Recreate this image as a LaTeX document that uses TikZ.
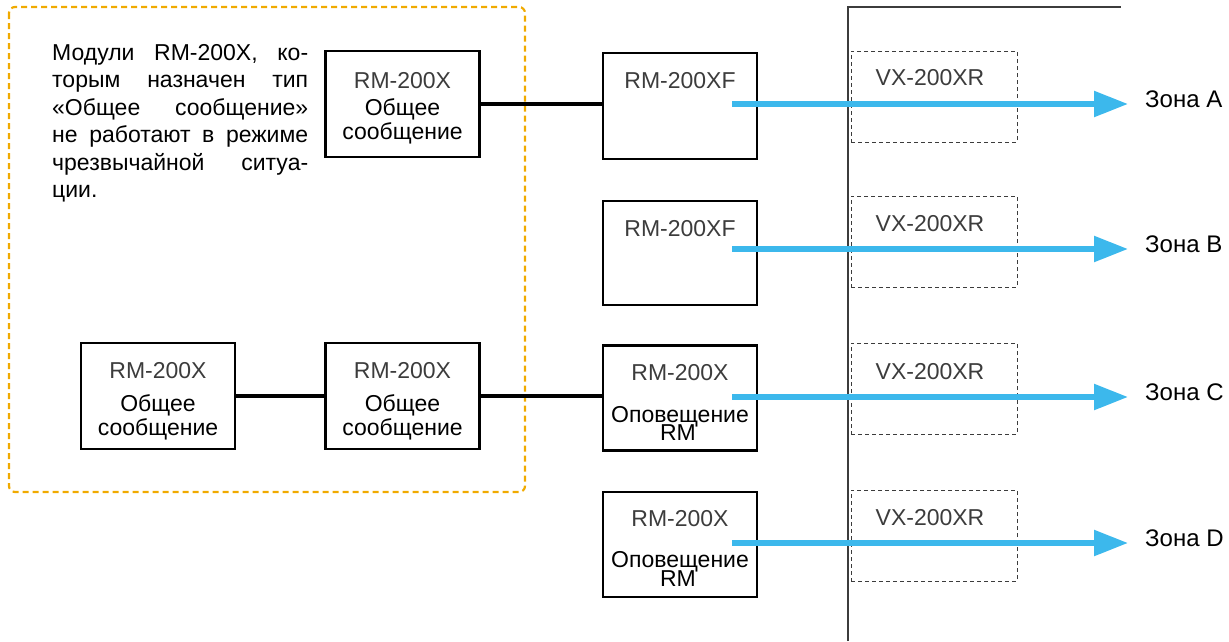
\documentclass[tikz,border=0pt]{standalone}
\usepackage{fontspec}
\setmainfont{Liberation Sans}
\usetikzlibrary{arrows.meta}
\definecolor{grporange}{RGB}{240,170,0}
\definecolor{zoneblue}{RGB}{60,184,236}
\definecolor{devgray}{RGB}{60,60,60}
\begin{document}
\begin{tikzpicture}[x=1pt,y=-1pt,
  box/.style={draw=black, line width=2.5pt, minimum width=154pt, minimum height=106pt, inner sep=0pt},
  vxbox/.style={draw=devgray, line width=1pt, dash pattern=on 4pt off 3pt, minimum width=166pt, minimum height=91pt, inner sep=0pt},
  model/.style={font=\fontsize{23}{23}\selectfont, text=devgray, inner sep=0pt, anchor=base},
  lbl/.style={font=\fontsize{23}{23}\selectfont, inner sep=0pt, anchor=base},
  zone/.style={font=\fontsize{24}{24}\selectfont, inner sep=0pt, anchor=base west},
  link/.style={line width=3.6pt},
  zarrow/.style={draw=zoneblue, line width=5.5pt, -{Triangle[length=34pt,width=25pt]}, shorten >=17pt},
  grpbox/.style={draw=grporange, line width=2.2pt, dash pattern=on 6pt off 4pt, rounded corners=6pt}
]
\useasboundingbox (0,0) rectangle (1229,641);

% group frame
\draw[grpbox] (9,7) rectangle (525,492);

% note text
\node[anchor=north west, text width=256pt, align=justify, inner sep=0pt,
      font=\fontsize{23}{27.5}\selectfont] (note) at (52,44)
  {\hyphenpenalty=10000 Модули RM-200X, ко-\linebreak торым назначен тип\linebreak «Общее сообщение»\linebreak не работают в режиме\linebreak чрезвычайной ситуа-\linebreak ции.};

% boxes
\node[box] (m1) at (402.5,104) {};
\node[model] (m1a) at (402.5,88) {RM-200X};
\node[lbl] (m1b) at (402.5,115) {Общее};
\node[lbl] (m1c) at (402.5,139) {сообщение};

\node[box] (b1) at (158,396) {};
\node[model] (b1a) at (158,378) {RM-200X};
\node[lbl] (b1b) at (158,411) {Общее};
\node[lbl] (b1c) at (158,435) {сообщение};

\node[box] (b2) at (402.5,396) {};
\node[model] (b2a) at (402.5,378) {RM-200X};
\node[lbl] (b2b) at (402.5,411) {Общее};
\node[lbl] (b2c) at (402.5,435) {сообщение};

\node[box] (xfA) at (680,106) {};
\node[model] (xfAa) at (680,88) {RM-200XF};
\node[box, minimum height=104pt] (xfB) at (680,253) {};
\node[model] (xfBa) at (680,236) {RM-200XF};

\node[box, minimum height=105pt] (bC) at (680,398) {};
\node[model] (bCa) at (680,380) {RM-200X};
\node[lbl] (bCb) at (680,422) {Оповещение};
\node[lbl] (bCc) at (678,440) {RM};

\node[box, minimum height=105pt] (bD) at (680,544.5) {};
\node[model] (bDa) at (680,526) {RM-200X};
\node[lbl] (bDb) at (680,567) {Оповещение};
\node[lbl] (bDc) at (678,586) {RM};

% links
\draw[link] (m1.east |- 0,104) -- (xfA.west |- 0,104);
\draw[link] (b1.east) -- (b2.west);
\draw[link] (b2.east) -- (b2.east -| bC.west);

% amplifier rack outline
\coordinate (rb) at (848,641);
\coordinate (rt) at (848,7);
\coordinate (rr) at (1121,7);
\draw[line width=1.3pt, draw=devgray] (rb) -- (rt) -- (rr);

% VX boxes
\node[vxbox] (vxA) at (934,96.5) {};
\node[model] (vxAa) at (930,85) {VX-200XR};
\node[vxbox] (vxB) at (934,241.5) {};
\node[model] (vxBa) at (930,231) {VX-200XR};
\node[vxbox] (vxC) at (934,388.5) {};
\node[model] (vxCa) at (930,379) {VX-200XR};
\node[vxbox] (vxD) at (934,535.5) {};
\node[model] (vxDa) at (930,525) {VX-200XR};

% zone labels
\node[zone] (zA) at (1145,107) {Зона A};
\node[zone] (zB) at (1145,252.5) {Зона B};
\node[zone] (zC) at (1145,400.5) {Зона C};
\node[zone] (zD) at (1145,546.5) {Зона D};

% arrows
\coordinate (sA) at (732,104);
\coordinate (sB) at (732,249);
\coordinate (sC) at (732,397);
\coordinate (sD) at (732,543);
\draw[zarrow] (sA) -- (sA -| zA.west);
\draw[zarrow] (sB) -- (sB -| zB.west);
\draw[zarrow] (sC) -- (sC -| zC.west);
\draw[zarrow] (sD) -- (sD -| zD.west);
\end{tikzpicture}
\end{document}
